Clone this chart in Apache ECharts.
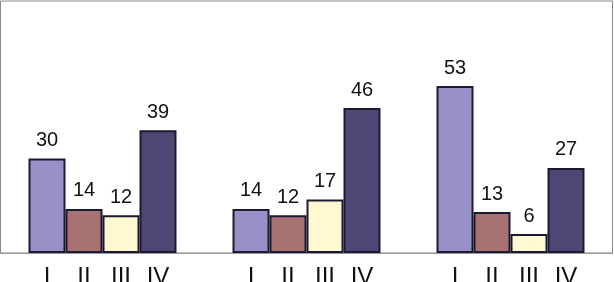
<!DOCTYPE html>
<html>
<head>
<meta charset="utf-8">
<script src="https://cdn.jsdelivr.net/npm/echarts@6/dist/echarts.min.js"></script>
<style>
  html, body { margin: 0; padding: 0; background: #fff; }
  #chart { width: 614px; height: 282px; }
</style>
</head>
<body>
<div id="chart"></div>
<script>
// three groups, four bars each
var groups = ["A", "B", "C"];
var barNames = ["I", "II", "III", "IV"];
var valuesI = [30, 14, 53];
var valuesII = [14, 12, 13];
var valuesIII = [12, 17, 6];
var valuesIV = [39, 46, 27];

var colors = ["#9890c8", "#a87272", "#fff8d0", "#4e4775"];
var allValues = [valuesI, valuesII, valuesIII, valuesIV];

var chart = echarts.init(document.getElementById("chart"));

var series = [];
for (var i = 0; i < barNames.length; i++) {
  series.push({
    name: barNames[i],
    type: "bar",
    data: allValues[i],
    barWidth: 37,
    barGap: "0%",
    itemStyle: {
      color: colors[i],
      borderColor: "#1c1a30",
      borderWidth: 2
    },
    label: {
      show: true,
      position: "top",
      distance: 8,
      color: "#111",
      fontSize: 20,
      fontFamily: "Liberation Sans, Arial, sans-serif"
    }
  });
}

var option = {
  animation: false,
  grid: {
    show: true,
    left: 0.5,
    right: 1.5,
    top: 1,
    bottom: 29,
    outerBoundsMode: "none",
    borderColor: "#888",
    borderWidth: 1
  },
  xAxis: {
    type: "category",
    data: groups,
    axisTick: { show: false },
    axisLine: { lineStyle: { color: "#999", width: 1 } },
    axisLabel: {
      margin: 12,
      formatter: function () {
        return barNames.map(function (n) { return "{a|" + n + "}"; }).join("");
      },
      rich: {
        a: {
          width: 37,
          align: "center",
          fontSize: 24,
          color: "#111",
          fontFamily: "Liberation Sans, Arial, sans-serif"
        }
      }
    }
  },
  yAxis: {
    type: "value",
    min: 0,
    max: 80,
    show: false,
    splitLine: { show: false }
  },
  series: series
};

chart.setOption(option);
</script>
</body>
</html>
